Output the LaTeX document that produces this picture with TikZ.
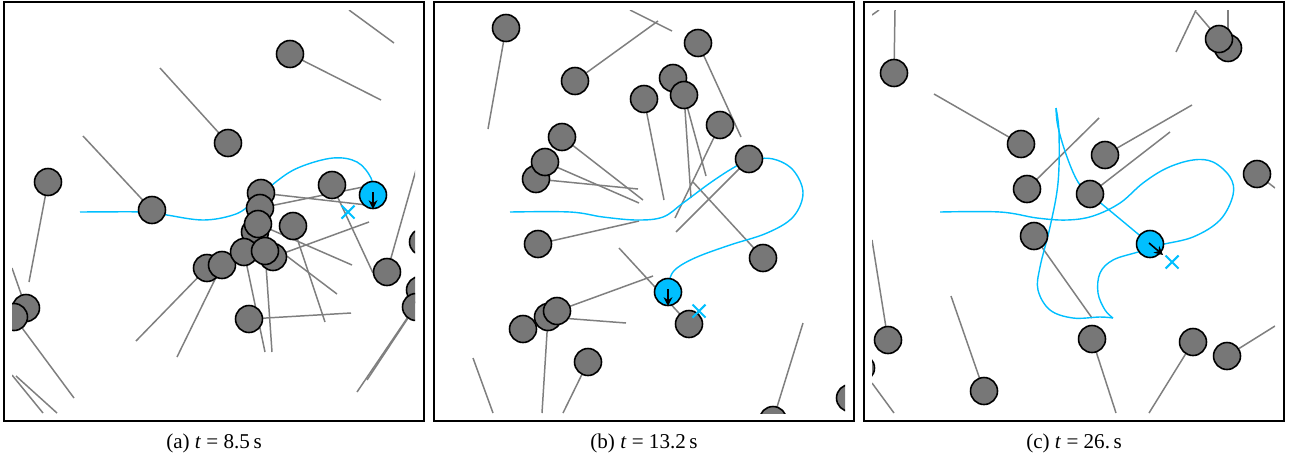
\documentclass[tikz,border=0pt]{standalone}
\usepackage{fontspec}
\setmainfont{Liberation Serif}
\usetikzlibrary{arrows.meta}
\definecolor{obsfill}{HTML}{777777}
\definecolor{tailln}{HTML}{7F7F7F}
\definecolor{robotc}{HTML}{00BFFF}

\begin{document}
\begin{tikzpicture}[x=0.02cm,y=-0.02cm,
    tail/.style={tailln,line width=0.85pt},
    obst/.style={draw=black,fill=obsfill,line width=0.9pt},
    robot/.style={draw=black,fill=robotc,line width=0.9pt},
    traj/.style={robotc,line width=0.8pt},
    goal/.style={robotc,line width=1.2pt},
    heading/.style={-{Stealth[length=5pt,width=5pt]},line width=0.9pt},
    frm/.style={draw=black,line width=1pt},
    subcap/.style={font=\fontsize{12}{14}\selectfont,inner sep=0pt},
  ]
  \def\rr{0.27cm}
  \useasboundingbox (0,0) rectangle (1297,461);
  % (a) t = 8.5 s
  \begin{scope}
    \clip (12,10) rectangle (415,413);
    \foreach \xa/\ya/\xb/\yb in {349/10/394/43, 290/54/381/100, 228/143/160/68,
        152/210/83/136, 48/182/29/282, 12/268/26/308, 14/317/74/398,
        12/375/43/413, 16/376/57/413, 207/268/136/341, 222/265/177/357,
        244/252/265/352, 265/251/272/352, 249/319/351/313, 293/226/325/322,
        255/232/337/294, 258/224/352/265, 273/257/369/222, 261/193/367/205,
        260/208/363/187, 332/185/373/273, 387/272/416/170, 412/311/357/392,
        414/309/367/380}
      \draw[tail] (\xa,\ya) -- (\xb,\yb);
    \draw[traj] plot[smooth,tension=0.6] coordinates {(80,212) (150,212) (167,215)
      (203,220) (233,215) (250,205) (277,181) (300,167) (333,158) (357,162)
      (371,178) (373,195)};
    \foreach \cx/\cy in {290/54, 228/143, 152/210, 48/182, 26/308, 14/317,
        207/268, 222/265, 255/232, 244/252, 261/193, 260/208, 258/224,
        273/257, 265/251, 293/226, 332/185, 249/319, 387/272, 423/242,
        420/290, 416/307}
      \draw[obst] (\cx,\cy) circle[radius=\rr];
    \draw[goal] (348,212) ++(-6.5,-6.5) -- ++(13,13) ++(-13,0) -- ++(13,-13);
    \draw[robot] (373,195) circle[radius=\rr];
    \draw[heading] (373,192) -- (373,209);
  \end{scope}
  \draw[frm] (4,2) rectangle (424,421);
  \node[subcap] (capa) at (214,443) {(a) \textit{t} = 8.5\,s};
  % (b) t = 13.2 s
  \begin{scope}[shift={(430,0)}]
    \clip (12,10) rectangle (415,413);
    \foreach \xa/\ya/\xb/\yb in {76/28/58/129, 145/81/228/21, 200/10/242/31,
        268/43/311/137, 254/95/261/198, 254/95/276/176, 214/99/234/200,
        290/125/245/218, 319/159/246/232, 333/258/263/182, 132/137/213/200,
        115/162/209/203, 106/179/208/189, 108/244/209/221, 259/324/189/248,
        127/311/223/276, 118/317/196/323, 118/317/112/413, 158/362/133/413,
        43/358/63/413, 343/420/373/323}
      \draw[tail] (\xa,\ya) -- (\xb,\yb);
    \draw[traj] plot[smooth,tension=0.6] coordinates {(80,212) (140,212) (173,217)
      (207,220) (233,217) (253,203) (280,183) (303,168) (320,160) (343,159)
      (363,170) (373,193) (363,217) (337,233) (300,245) (267,257) (247,268)
      (240,278) (238,292)};
    \foreach \cx/\cy in {76/28, 145/81, 268/43, 243/78, 254/95, 214/99,
        290/125, 319/159, 132/137, 106/179, 115/162, 108/244, 333/258,
        118/317, 127/311, 93/329, 158/362, 259/324, 343/420, 420/398}
      \draw[obst] (\cx,\cy) circle[radius=\rr];
    \draw[goal] (269,311) ++(-6.5,-6.5) -- ++(13,13) ++(-13,0) -- ++(13,-13);
    \draw[robot] (238,292) circle[radius=\rr];
    \draw[heading] (238,289) -- (238,306);
  \end{scope}
  \draw[frm] (434,2) rectangle (854,421);
  \node[subcap] (capb) at (644,443) {(b) \textit{t} = 13.2\,s};
  % (c) t = 26. s
  \begin{scope}[shift={(860,0)}]
    \clip (12,10) rectangle (415,413);
    \foreach \xa/\ya/\xb/\yb in {12/15/19/10, 34/73/35/10, 336/10/316/52,
        336/12/359/39, 368/10/368/48, 161/144/74/94, 245/155/332/105,
        167/189/239/118, 230/194/310/132, 174/236/232/318, 397/174/415/188,
        28/340/12/240, 12/383/34/413, 124/391/91/296, 232/339/256/413,
        333/342/289/413, 367/356/415/326}
      \draw[tail] (\xa,\ya) -- (\xb,\yb);
    \draw[traj] plot[smooth,tension=0.6] coordinates {(80,212) (140,212) (177,218)
      (207,220) (233,216) (260,203) (283,183) (307,168) (333,160) (353,162)
      (370,177) (373,195) (360,220) (333,237) (300,245) (278,252) (253,260)
      (240,273) (238,293) (245,310) (253,318)};
    \draw[traj] plot[smooth,tension=0.6] coordinates {(253,318) (240,317) (213,318)
      (190,310) (178,290) (180,267) (190,227) (198,183) (199,133) (196,108)};
    \draw[traj] plot[smooth,tension=0.6] coordinates {(196,108) (198,127) (207,157)
      (218,182) (230,194) (260,219) (290,244)};
    \foreach \cx/\cy in {34/73, 368/48, 359/39, 161/144, 245/155, 167/189,
        230/194, 174/236, 397/174, 28/340, 1/368, 124/391, 232/339, 333/342,
        367/356}
      \draw[obst] (\cx,\cy) circle[radius=\rr];
    \draw[goal] (312,262) ++(-6.5,-6.5) -- ++(13,13) ++(-13,0) -- ++(13,-13);
    \draw[robot] (290,244) circle[radius=\rr];
    \draw[heading] (289,243) -- (303,255);
  \end{scope}
  \draw[frm] (864,2) rectangle (1284,421);
  \node[subcap] (capc) at (1074,443) {(c) \textit{t} = 26.\,s};
\end{tikzpicture}
\end{document}
